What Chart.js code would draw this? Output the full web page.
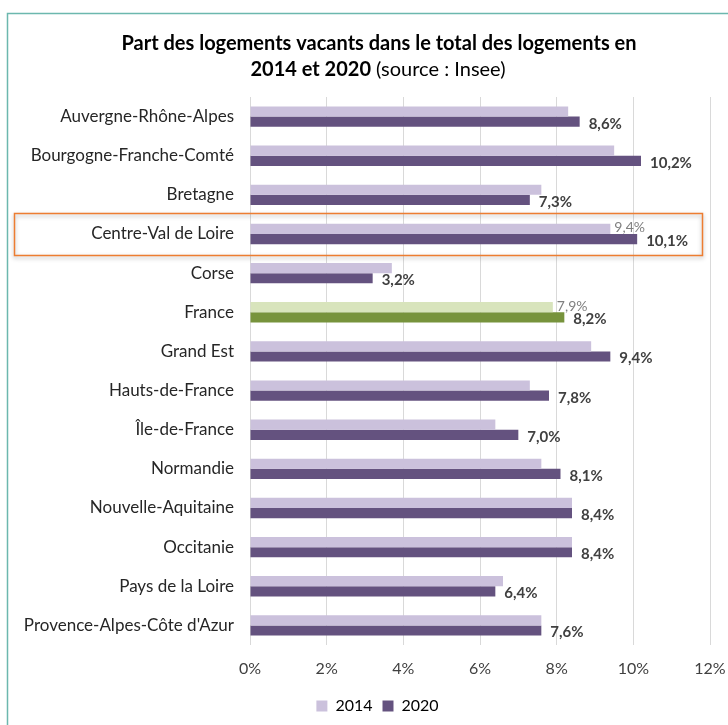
<!DOCTYPE html>
<html>
<head>
<meta charset="utf-8">
<script src="https://cdn.jsdelivr.net/npm/chart.js@4/dist/chart.umd.min.js"></script>
<style>
  html, body { margin: 0; padding: 0; background: #ffffff; }
  #wrap { position: relative; width: 728px; height: 725px; }
  canvas { display: block; }
</style>
</head>
<body>
<div id="wrap"><canvas id="c" width="728" height="725"></canvas></div>
<script>
const categories = [
  "Auvergne-Rhône-Alpes",
  "Bourgogne-Franche-Comté",
  "Bretagne",
  "Centre-Val de Loire",
  "Corse",
  "France",
  "Grand Est",
  "Hauts-de-France",
  "Île-de-France",
  "Normandie",
  "Nouvelle-Aquitaine",
  "Occitanie",
  "Pays de la Loire",
  "Provence-Alpes-Côte d'Azur"
];
const values2014 = [8.3, 9.5, 7.6, 9.4, 3.7, 7.9, 8.9, 7.3, 6.4, 7.6, 8.4, 8.4, 6.6, 7.6];
const values2020 = [8.6, 10.2, 7.3, 10.1, 3.2, 8.2, 9.4, 7.8, 7.0, 8.1, 8.4, 8.4, 6.4, 7.6];
const seriesNames = ["2014", "2020"];
const xTicks = [0, 2, 4, 6, 8, 10, 12];
const highlighted = "Centre-Val de Loire";
const national = "France";
const labelled2014 = ["Centre-Val de Loire", "France"];
const titleLine1 = "Part des logements vacants dans le total des logements en";
const titleLine2Bold = "2014 et 2020";
const titleLine2Normal = " (source : Insee)";

const FONT = "Lato, 'Open Sans', sans-serif";
const C14 = "#cbc1dc", C20 = "#64527f", G14 = "#d8e4bc", G20 = "#77933c";

const col14 = categories.map(c => c === national ? G14 : C14);
const col20 = categories.map(c => c === national ? G20 : C20);

const fmt = v => v.toFixed(1).replace(".", ",") + "%";

const decor = {
  id: "decor",
  afterLayout(chart) {
    if (chart.legend) { chart.legend.left += 45; }
  },
  beforeDraw(chart) {
    const ctx = chart.ctx;
    ctx.save();
    ctx.fillStyle = "#fff";
    ctx.fillRect(0, 0, chart.width, chart.height);
    ctx.strokeStyle = "#6cb8ae";
    ctx.lineWidth = 1.5;
    ctx.beginPath();
    ctx.moveTo(7.5, chart.height);
    ctx.lineTo(7.5, 13.5);
    ctx.lineTo(chart.width, 13.5);
    ctx.stroke();
    ctx.restore();
  },
  afterDraw(chart) {
    const ctx = chart.ctx;
    const y = chart.scales.y;
    ctx.save();
    // title
    ctx.fillStyle = "#000";
    ctx.textBaseline = "middle";
    ctx.textAlign = "center";
    ctx.font = "bold 20px " + FONT;
    ctx.fillText(titleLine1, 379, 44);
    const wb = ctx.measureText(titleLine2Bold).width;
    ctx.font = "20px " + FONT;
    const wn = ctx.measureText(titleLine2Normal).width;
    const x0 = 378 - (wb + wn) / 2;
    ctx.textAlign = "left";
    ctx.font = "bold 20px " + FONT;
    ctx.fillText(titleLine2Bold, x0, 70);
    ctx.font = "20px " + FONT;
    ctx.fillText(titleLine2Normal, x0 + wb, 70);

    // highlight box
    const idx = categories.indexOf(highlighted);
    const cy = y.getPixelForValue(idx);
    ctx.save();
    ctx.shadowColor = "rgba(0,0,0,0.3)";
    ctx.shadowBlur = 4;
    ctx.shadowOffsetY = 2;
    ctx.strokeStyle = "#ed7d31";
    ctx.lineWidth = 1.5;
    ctx.strokeRect(14.5, cy - 20.5, 688, 42);
    ctx.restore();

    // data labels
    const m0 = chart.getDatasetMeta(0);
    const m1 = chart.getDatasetMeta(1);
    ctx.textAlign = "left";
    ctx.textBaseline = "middle";
    m1.data.forEach((el, i) => {
      ctx.font = "bold 15px " + FONT;
      ctx.fillStyle = "#404040";
      ctx.fillText(fmt(values2020[i]), el.x + 9, el.y + 2);
    });
    m0.data.forEach((el, i) => {
      if (!labelled2014.includes(categories[i])) return;
      ctx.font = "14px " + FONT;
      ctx.fillStyle = "#7f7f7f";
      ctx.fillText(fmt(values2014[i]), el.x + 4, el.y - 1);
    });
    ctx.restore();
  }
};

new Chart(document.getElementById("c"), {
  type: "bar",
  data: {
    labels: categories,
    datasets: [
      { label: seriesNames[0], data: values2014, backgroundColor: col14, borderWidth: 0,
        categoryPercentage: 0.52, barPercentage: 1.0 },
      { label: seriesNames[1], data: values2020, backgroundColor: col20, borderWidth: 0,
        categoryPercentage: 0.52, barPercentage: 1.0 }
    ]
  },
  options: {
    indexAxis: "y",
    responsive: false,
    animation: false,
    devicePixelRatio: 1,
    layout: { padding: { top: 97, right: 18, bottom: 1, left: 0 } },
    plugins: {
      legend: {
        position: "bottom",
        labels: {
          boxWidth: 11, boxHeight: 11, padding: 10,
          color: "#404040",
          font: { family: FONT, size: 16 },
          generateLabels: () => [
            { text: seriesNames[0], fillStyle: C14, strokeStyle: C14, lineWidth: 0, datasetIndex: 0 },
            { text: seriesNames[1], fillStyle: C20, strokeStyle: C20, lineWidth: 0, datasetIndex: 1 }
          ]
        }
      },
      title: { display: false },
      tooltip: { enabled: false }
    },
    scales: {
      x: {
        min: 0, max: 12,
        afterBuildTicks: s => { s.ticks = xTicks.map(v => ({ value: v })); },
        afterFit: s => { s.height = 43; s.paddingLeft = 0; s.paddingRight = 0; },
        grid: { color: "#d9d9d9", drawTicks: false, lineWidth: 1 },
        border: { display: false },
        ticks: {
          padding: 14,
          color: "#404040",
          font: { family: FONT, size: 16 },
          callback: v => v + "%"
        }
      },
      y: {
        afterFit: s => { s.width = 250; s.paddingTop = 0; s.paddingBottom = 0; },
        grid: { display: false, drawTicks: false },
        border: { display: false },
        ticks: {
          padding: 16,
          color: "#262626",
          font: { family: FONT, size: 17 }
        }
      }
    }
  },
  plugins: [decor]
});
</script>
</body>
</html>
